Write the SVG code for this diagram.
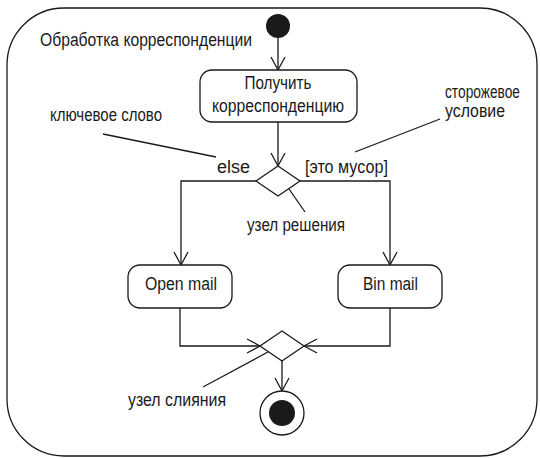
<svg xmlns="http://www.w3.org/2000/svg" width="540" height="458" viewBox="0 0 540 458">
<style>
.ln{fill:none;stroke:#1a1a1a;stroke-width:1.3}
.nd{fill:#fff;stroke:#1a1a1a;stroke-width:1.3}
.t{font-family:"Liberation Sans",Arial,sans-serif;font-size:18px;fill:#1a1a1a}
.c{text-anchor:middle}
</style>
<defs>
<marker id="arr" markerUnits="userSpaceOnUse" markerWidth="20" markerHeight="20" refX="14" refY="8" orient="auto" viewBox="0 0 20 16">
<path d="M1,1 L14,8 L1,15" fill="none" stroke="#1a1a1a" stroke-width="1.3"/>
</marker>
</defs>
<rect x="7" y="8" width="530" height="448" rx="57" ry="57" class="ln"/>
<text class="t" x="40" y="46" textLength="212" lengthAdjust="spacingAndGlyphs">Обработка корреспонденции</text>
<g id="connectors">
<line class="ln" x1="278" y1="38" x2="278" y2="70" marker-end="url(#arr)"/>
<line class="ln" x1="278" y1="122" x2="278" y2="166" marker-end="url(#arr)"/>
<polyline class="ln" points="256,181 181,181 181,265" marker-end="url(#arr)"/>
<polyline class="ln" points="300,181 390,181 390,265" marker-end="url(#arr)"/>
<polyline class="ln" points="180,308 180,346 260,346" marker-end="url(#arr)"/>
<polyline class="ln" points="390,308 390,346 304,346" marker-end="url(#arr)"/>
<line class="ln" x1="282" y1="361" x2="282" y2="391" marker-end="url(#arr)"/>
<line class="ln" x1="103" y1="134" x2="216" y2="157"/>
<line class="ln" x1="440" y1="119" x2="355" y2="152"/>
<line class="ln" x1="289" y1="189" x2="305" y2="212"/>
<line class="ln" x1="203" y1="387" x2="268" y2="352"/>
</g>
<g id="start"><circle cx="278" cy="26" r="12" fill="#1a1a1a"/></g>
<g id="receive">
<rect class="nd" x="200" y="70" width="157" height="52" rx="12"/>
<text class="t c" x="278" y="89" textLength="67" lengthAdjust="spacingAndGlyphs">Получить</text>
<text class="t c" x="278" y="112" textLength="132" lengthAdjust="spacingAndGlyphs">корреспонденцию</text>
</g>
<g id="decision">
<polygon class="nd" points="278,166 300,181 278,196 256,181"/>
</g>
<g id="open">
<rect class="nd" x="128" y="265" width="104" height="43" rx="12"/>
<text class="t" x="145" y="290" textLength="72" lengthAdjust="spacingAndGlyphs">Open mail</text>
</g>
<g id="bin">
<rect class="nd" x="338" y="265" width="104" height="43" rx="12"/>
<text class="t" x="363" y="290" textLength="55" lengthAdjust="spacingAndGlyphs">Bin mail</text>
</g>
<g id="merge">
<polygon class="nd" points="282,331 304,346 282,361 260,346"/>
</g>
<g id="final">
<circle class="nd" cx="282" cy="413" r="22"/>
<circle cx="282" cy="413" r="13" fill="#1a1a1a"/>
</g>
<g id="labels">
<text class="t" x="217" y="173" textLength="33" lengthAdjust="spacingAndGlyphs">else</text>
<text class="t" x="305" y="173" textLength="83" lengthAdjust="spacingAndGlyphs">[это мусор]</text>
<text class="t" x="247" y="231" textLength="98" lengthAdjust="spacingAndGlyphs">узел решения</text>
<text class="t" x="128" y="406" textLength="98" lengthAdjust="spacingAndGlyphs">узел слияния</text>
<text class="t" x="50" y="121" textLength="112" lengthAdjust="spacingAndGlyphs">ключевое слово</text>
<text class="t" x="445" y="98" textLength="75" lengthAdjust="spacingAndGlyphs">сторожевое</text>
<text class="t" x="445" y="117" textLength="60" lengthAdjust="spacingAndGlyphs">условие</text>
</g>
</svg>
